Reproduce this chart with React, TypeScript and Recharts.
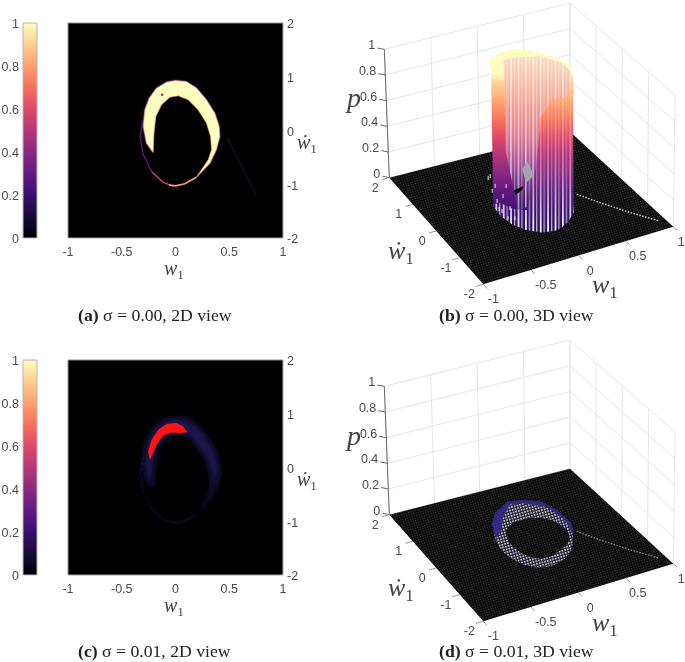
import React from 'react';
import { BarChart, Bar, ScatterChart, Scatter, XAxis, YAxis, CartesianGrid, Polygon, Curve } from 'recharts';

// tick labels
const wTicks = [-1, -0.5, 0, 0.5, 1];
const wDotTicks = [-2, -1, 0, 1, 2];
const pTicks = [0, 0.2, 0.4, 0.6, 0.8, 1];
const barTicks = [0, 0.2, 0.4, 0.6, 0.8, 1];
const barData = [{ name: 'p', top: 1 }];

// magma colormap
const magmaOffsets = [0, 0.1, 0.2, 0.3, 0.4, 0.5, 0.6, 0.7, 0.8, 0.9, 1];
const magmaColors = ['#000004', '#140e36', '#3b0f70', '#641a80', '#8c2981', '#b73779', '#de4968', '#f7705c', '#fe9f6d', '#fecf92', '#fcfdbf'];

// contours read from the 2D views, [w, wdot]
const crescentOuter = [
  [-0.208, -0.41], [-0.27, -0.236], [-0.3, 0.074], [-0.285, 0.385], [-0.245, 0.6], [-0.177, 0.788], [-0.084, 0.9], [0, 0.93],
  [0.1, 0.91], [0.195, 0.79], [0.288, 0.57], [0.366, 0.32], [0.406, 0.074], [0.412, -0.11], [0.38, -0.36], [0.32, -0.61], [0.195, -0.87],
];
const crescentInner = [
  [0.304, -0.546], [0.335, -0.36], [0.326, -0.11], [0.288, 0.136], [0.21, 0.385], [0.118, 0.57], [0.025, 0.645], [-0.053, 0.62],
  [-0.13, 0.477], [-0.183, 0.26], [-0.2, -0.05],
];
const lowerBandLeft = [[-0.3, 0.2], [-0.33, -0.11], [-0.3, -0.453], [-0.223, -0.763]];
const lowerBandMid = [[-0.223, -0.763], [-0.115, -0.967], [-0.04, -1.02]];
const lowerBandBottom = [[-0.06, -1.015], [0, -1.03], [0.087, -0.99], [0.195, -0.87]];
const tailLine = [[0.48, -0.13], [0.6, -0.6], [0.75, -1.2]];
const redDot = [[-0.124, 0.664]];
const redPatch = [
  [-0.24, 0.143], [-0.254, 0.298], [-0.223, 0.515], [-0.161, 0.7], [-0.084, 0.807], [0.009, 0.826], [0.071, 0.764], [0.112, 0.658],
  [0.04, 0.64], [-0.037, 0.65], [-0.115, 0.59], [-0.177, 0.42], [-0.214, 0.236],
];

// 3D view (b), [w, wdot]
const wallBack = [
  [-0.285, 0.385], [-0.245, 0.6], [-0.177, 0.788], [-0.084, 0.9], [0, 0.93], [0.1, 0.91], [0.195, 0.79], [0.288, 0.57], [0.366, 0.32], [0.406, 0.074], [0.412, -0.11], [0.38, -0.36],
];
const wallFront = [
  [0.38, -0.36], [0.32, -0.61], [0.195, -0.856], [0.087, -0.99], [0, -1.03], [-0.115, -0.967], [-0.223, -0.763], [-0.3, -0.453], [-0.33, -0.11], [-0.316, 0.26], [-0.285, 0.385],
];
// [w, wdot, p]
const hollowRim = [
  [-0.22, 0.11, 1], [-0.097, 0.657, 1], [0.072, 0.602, 1], [0.25, 0.458, 1], [0.37, 0.096, 1], [0.372, -0.303, 1],
  [0.32, -0.61, 0.9], [-0.2, -0.85, 0.2], [-0.25, -0.5, 0.1], [-0.175, 0.26, 0.4],
];
const frontProfile = [
  [0.38, -0.36, 1], [0.32, -0.61, 1], [0.195, -0.856, 0.95], [0.087, -0.99, 0.97], [-0.02, -1.02, 0.98], [-0.12, -0.96, 0.86],
  [-0.14, -0.94, 0.66], [-0.16, -0.9, 0.47], [-0.19, -0.84, 0.3], [-0.223, -0.763, 0.15], [-0.3, -0.453, 0.12], [-0.33, -0.11, 0.1], [-0.316, 0.26, 0.02],
];
const gapBlack = [[0.066, 0.528, 0], [0.11, 0.64, 0], [0, 0.6, 0], [-0.04, 0.43, 0]];
const gapGrey = [[0.25, 1.2, 0], [0.36, 1.4, 0], [0.3, 0.9, 0], [0.16, 0.72, 0]];
const baseSpecks = [
  [-0.156, 1.075], [-0.229, 0.635], [-0.27, 0.28], [-0.31, -0.075], [-0.317, -0.346], [-0.162, 0.765], [-0.178, 0.383],
  [-0.217, -0.05], [-0.258, -0.407], [-0.122, 1.12], [-0.069, 0.668], [-0.319, 0.013],
];
const tailDots = [[0.48, -0.13], [0.6, -0.6], [0.75, -1.15], [0.92, -1.72]];

// 3D view (d), [w, wdot, p]
const ringTop = [
  [-0.37, 0.08, 0.18], [-0.226, 0.457, 0.18], [-0.044, 0.665, 0.18], [0.083, 0.6, 0.18], [0.23, 0.41, 0.18], [0.298, -0.015, 0.18], [0.3, -0.544, 0.18], [0.39, -0.3, 0.05],
];
const ringBase = [
  [0.326, -0.583, 0], [0.131, -0.909, 0], [-0.066, -0.97, 0], [-0.222, -0.744, 0], [-0.309, -0.26, 0], [-0.298, 0.255, 0],
];
const ringBandInner = [
  [0.277, -0.769, 0.15], [0.302, -0.269, 0.17], [0.243, 0.186, 0.185], [0.067, 0.472, 0.19], [-0.055, 0.558, 0.19], [-0.18, 0.358, 0.16], [-0.305, -0.04, 0.15], [-0.403, -0.204, 0.15],
];
const ringHole = [
  [-0.14, 0.6, 0], [0.08, 0.8, 0], [0.34, 0.7, 0], [0.43, 0.28, 0], [0.41, -0.28, 0], [0.17, -0.58, 0], [-0.07, -0.72, 0], [-0.2, -0.14, 0],
];

// view of the box, in page pixels of panel (b)
const floorView = { a: [483.3, 284.3], b: [673.3, 226.7], c: [389.3, 177.7], d: [570, 131.7] };
const topView = { a: [481.5, 145], b: [675, 95], c: [384.3, 49.3], d: [570, 3] };
const wLabelShift = [10, 15, 12, 12, 8];

const bilerp = (q: any, u: number, v: number) => [0, 1].map(i =>
  (1 - v) * ((1 - u) * q.a[i] + u * q.b[i]) + v * ((1 - u) * q.c[i] + u * q.d[i]));

const project = (w: number, wd: number, p = 0) => {
  const u = (w + 1) / 2;
  const v = (wd + 2) / 4;
  const f = bilerp(floorView, u, v);
  const t = bilerp(topView, u, v);
  return { x: f[0] + (t[0] - f[0]) * p, y: f[1] + (t[1] - f[1]) * p };
};

const flat = (pts: number[][]) => pts.map(([x, y]) => ({ x, y }));
const at = (pts: number[][], p: number) => pts.map(([w, wd]) => project(w, wd, p));
const lifted = (pts: number[][]) => pts.map(([w, wd, p]) => project(w, wd, p));

const noDot = () => <g />;

// closed shape through the chart scales
const region = (key: string, pts: any[], fill: string, extra: any = {}) => (
  <Scatter
    key={key}
    data={pts}
    isAnimationActive={false}
    shape={noDot}
    line={(lp: any) => <Polygon key={key} points={lp.points} fill={fill} stroke="none" {...extra} />}
  />
);

const blob = (key: string, pts: any[], fill: string, extra: any = {}) => (
  <Scatter
    key={key}
    data={pts}
    isAnimationActive={false}
    shape={noDot}
    line={(lp: any) => <Curve key={key} type="basisClosed" points={lp.points} fill={fill} stroke="none" {...extra} />}
  />
);

const stroke = (key: string, pts: any[], color: string, width = 1, dash?: string, extra: any = {}) => (
  <Scatter
    key={key}
    data={pts}
    isAnimationActive={false}
    shape={noDot}
    line={{ stroke: color, strokeWidth: width, strokeDasharray: dash, fill: 'none', ...extra }}
    lineJointType="linear"
  />
);

const TICK_FONT = { fontFamily: '"Liberation Sans", Arial, sans-serif', fontSize: 12.5, fill: '#4a4a4a' };

const textMarks = (key: string, pts: any[], dx: number, dy: number, anchor: string) => (
  <Scatter
    key={key}
    data={pts}
    isAnimationActive={false}
    shape={(s: any) => (
      <text x={s.cx + (s.payload.shift ?? dx)} y={s.cy + dy} textAnchor={anchor} {...TICK_FONT}>{s.payload.label}</text>
    )}
  />
);

const Math1 = ({ left, top, size, dot }: { left: number; top: number; size: number; dot?: boolean }) => (
  <div style={{ position: 'absolute', left, top, fontFamily: '"Liberation Serif", serif', fontSize: size, lineHeight: 1, color: '#444', whiteSpace: 'nowrap' }}>
    <i>{dot ? 'ẇ' : 'w'}</i><span style={{ fontSize: size * 0.66, position: 'relative', top: size * 0.2 }}>1</span>
  </div>
);

const Caption = ({ left, top, tag, text }: { left: number; top: number; tag: string; text: string }) => (
  <div style={{ position: 'absolute', left, top, fontFamily: '"Liberation Serif", serif', fontSize: 17.7, lineHeight: 1, color: '#222', whiteSpace: 'nowrap' }}>
    <b>{tag}</b> {text}
  </div>
);

const Colorbar = ({ top }: { top: number }) => (
  <div style={{ position: 'absolute', left: 0, top }}>
    <BarChart width={38} height={260} data={barData} margin={{ top: 23, right: 1, bottom: 22, left: 0 }} barCategoryGap={0}>
      <defs>
        <linearGradient id="magmaBar" x1="0" y1="1" x2="0" y2="0">
          {magmaOffsets.map((o, i) => <stop key={o} offset={o} stopColor={magmaColors[i]} />)}
        </linearGradient>
      </defs>
      <XAxis dataKey="name" hide />
      <YAxis width={23} domain={[0, 1]} ticks={barTicks} interval={0} axisLine={false} tickLine={false} tickSize={0} tick={{ ...TICK_FONT, textAnchor: 'end', dy: 1 }} tickMargin={4} />
      <Bar dataKey="top" fill="url(#magmaBar)" stroke="#b5b5b5" isAnimationActive={false} />
    </BarChart>
  </div>
);

const Flat = ({ top, children }: { top: number; children: React.ReactNode }) => (
  <div style={{ position: 'absolute', left: 40, top }}>
    <ScatterChart width={300} height={290} margin={{ top: 23, right: 27, bottom: 22, left: 28 }}>
      <defs>
        <filter id="soft" x="-20%" y="-20%" width="140%" height="140%"><feGaussianBlur stdDeviation="3" /></filter>
        <filter id="softer" x="-20%" y="-20%" width="140%" height="140%"><feGaussianBlur stdDeviation="1" /></filter>
      </defs>
      <CartesianGrid horizontal={false} vertical={false} fill="#000" />
      <XAxis type="number" dataKey="x" domain={[-1, 1]} ticks={wTicks} interval={0} height={30} stroke="#a8a8a8" tickLine={false} tickSize={0} tick={TICK_FONT} tickMargin={9} />
      <YAxis type="number" dataKey="y" domain={[-2, 2]} ticks={wDotTicks} interval={0} width={30} orientation="right" stroke="#a8a8a8" tickLine={false} tickSize={0} tick={{ ...TICK_FONT, dy: 1 }} tickMargin={4} />
      {stroke('frame', flat([[-1, -2], [-1, 2], [1, 2]]), '#8f8f8f')}
      {children}
    </ScatterChart>
  </div>
);

const Box3D = ({ top, children }: { top: number; children: React.ReactNode }) => {
  const backWall = wTicks.map(w => [project(w, 2, 0), project(w, 2, 1)]);
  const sideWall = wDotTicks.map(wd => [project(1, wd, 0), project(1, wd, 1)]);
  return (
    <div style={{ position: 'absolute', left: 340, top }}>
      <ScatterChart width={345} height={325} margin={{ top: 0, right: 0, bottom: 0, left: 0 }}>
        <defs>
          <linearGradient id="wallFill" gradientUnits="userSpaceOnUse" x1="0" y1="50" x2="0" y2="248">
            <stop offset={0} stopColor="#fcfdbf" />
            <stop offset={0.12} stopColor="#fcfdbf" />
            <stop offset={0.17} stopColor="#fecf92" />
            <stop offset={0.27} stopColor="#fe9f6d" />
            <stop offset={0.36} stopColor="#f7705c" />
            <stop offset={0.44} stopColor="#de4968" />
            <stop offset={0.52} stopColor="#b73779" />
            <stop offset={0.62} stopColor="#8c2981" />
            <stop offset={0.7} stopColor="#641a80" />
            <stop offset={0.82} stopColor="#3b0f70" />
            <stop offset={1} stopColor="#140e36" />
          </linearGradient>
          <linearGradient id="hollowFill" gradientUnits="userSpaceOnUse" x1="0" y1="52" x2="0" y2="205">
            <stop offset={0} stopColor="#fbe3c6" />
            <stop offset={0.3} stopColor="#f5a896" />
            <stop offset={0.55} stopColor="#e07a90" />
            <stop offset={0.75} stopColor="#a04a9a" />
            <stop offset={1} stopColor="#3b1668" />
          </linearGradient>
          <linearGradient id="frontFade" x1="0" y1="0" x2="0" y2="1">
            <stop offset={0.2} stopColor="#fff" stopOpacity={0.15} />
            <stop offset={0.5} stopColor="#fff" stopOpacity={0.35} />
            <stop offset={0.62} stopColor="#fff" stopOpacity={0.7} />
            <stop offset={0.7} stopColor="#fff" stopOpacity={0.95} />
          </linearGradient>
          <pattern id="frontStripes" patternUnits="userSpaceOnUse" width={7.4} height={325}>
            <rect x={0} y={0} width={1.8} height={325} fill="url(#frontFade)" />
            <rect x={3.7} y={0} width={1.3} height={325} fill="url(#frontFade)" fillOpacity={0.75} />
          </pattern>
          <pattern id="hollowStripes" patternUnits="userSpaceOnUse" width={7.4} height={325}>
            <rect x={0} y={0} width={1.6} height={325} fill="#fff" fillOpacity={0.62} />
            <rect x={3.7} y={0} width={1.2} height={325} fill="#fff" fillOpacity={0.38} />
          </pattern>
          <pattern id="floorMesh" patternUnits="userSpaceOnUse" width={2.4} height={2.4} patternTransform="rotate(-16)">
            <rect width={2.4} height={2.4} fill="#0a0a0a" />
            <rect width={1.1} height={1.1} fill="#383838" />
          </pattern>
          <pattern id="ringMesh" patternUnits="userSpaceOnUse" width={2.8} height={2.8} patternTransform="rotate(-16)">
            <rect width={2.8} height={2.8} fill="#1a1626" />
            <rect width={1.6} height={1.6} fill="#e4e4ee" />
          </pattern>
        </defs>
        <XAxis type="number" dataKey="x" domain={[340, 685]} hide />
        <YAxis type="number" dataKey="y" domain={[0, 325]} reversed hide />
        {backWall.map((s, i) => stroke(`bw${i}`, s, '#e6e6e6'))}
        {sideWall.map((s, i) => stroke(`sw${i}`, s, '#e6e6e6'))}
        {pTicks.map(p => stroke(`ph${p}`, [project(-1, 2, p), project(1, 2, p), project(1, -2, p)], '#e6e6e6'))}
        {stroke('pAxis', [project(-1, 2, 0), project(-1, 2, 1)], '#666')}
        {pTicks.map(p => stroke(`pt${p}`, [project(-1, 2, p), project(-1.05, 2.1, p)], '#666'))}
        {wDotTicks.map(wd => stroke(`wdt${wd}`, [project(-1, wd, 0), project(-1.08, wd, 0)], '#999'))}
        {wTicks.map(w => stroke(`wt${w}`, [project(w, -2, 0), project(w, -2.16, 0)], '#999'))}
        {region('floor', [project(-1, -2), project(1, -2), project(1, 2), project(-1, 2)], 'url(#floorMesh)')}
        {textMarks('pLabels', pTicks.map(p => ({ ...project(-1, 2, p), label: p })), -9, 0, 'end')}
        {textMarks('wdLabels', wDotTicks.map(wd => ({ ...project(-1, wd, 0), label: wd })), -14, 14, 'middle')}
        {textMarks('wLabels', wTicks.map((w, i) => ({ ...project(w, -2, 0), label: w, shift: wLabelShift[i] })), 12, 19, 'middle')}
        {children}
      </ScatterChart>
    </div>
  );
};

export default function App() {
  const crescent = [...crescentOuter, ...crescentInner];
  const frontBase = at([...wallFront].slice(0, 13).reverse(), 0);
  return (
    <div style={{ position: 'absolute', left: 0, top: 0, width: 685, height: 662, overflow: 'hidden', background: '#fff', filter: 'blur(0.45px)' }}>
      <Colorbar top={0} />
      <Colorbar top={337} />

      <Flat top={0}>
        {stroke('aEdge', flat(crescentOuter), '#2a0f5e', 2.4)}
        {stroke('aTail', flat(tailLine), '#100c2c', 1.5)}
        {stroke('aLowL', flat(lowerBandLeft), '#641a80', 1.3)}
        {stroke('aLowM', flat(lowerBandMid), '#de4968', 1.3)}
        {stroke('aLowB', flat(lowerBandBottom), '#fe9f6d', 1.7)}
        {region('aMain', flat(crescent), '#fcfdbf', { stroke: '#fe9f6d', strokeWidth: 0.6 })}
        <Scatter data={flat(redDot)} fill="#ff1010" isAnimationActive={false} shape={(s: any) => <circle cx={s.cx} cy={s.cy} r={1.3} fill="#ff1010" />} />
      </Flat>

      <Flat top={337}>
        {region('cGlow', flat(crescent), '#1e1550', { filter: 'url(#soft)' })}
        {stroke('cLow', flat([...lowerBandLeft, ...lowerBandMid.slice(1), ...lowerBandBottom.slice(1)]), '#120d30', 1.6, undefined, { filter: 'url(#softer)' })}
        {region('cRed', flat(redPatch), '#ff1414')}
      </Flat>

      <Box3D top={0}>
        {stroke('bTail', tailDots.map(([w, wd]) => project(w, wd, 0.012)), '#c4c4c4', 1.5, '1.5 1.5')}
        {region('bWall', [...at(wallBack, 1), ...at(wallFront, 0)], 'url(#wallFill)')}
        {region('bHollow', lifted(hollowRim), 'url(#hollowFill)')}
        {region('bHollowLines', lifted(hollowRim), 'url(#hollowStripes)')}
        {region('bGrey', lifted(gapGrey), '#a7a2b2')}
        {region('bGap', lifted(gapBlack), '#060606')}
        {region('bFront', [...lifted(frontProfile), ...frontBase], 'url(#wallFill)')}
        {region('bFrontLines', [...lifted(frontProfile), ...frontBase], 'url(#frontStripes)')}
        <Scatter
          data={at(baseSpecks, 0.03)}
          isAnimationActive={false}
          shape={(s: any) => <rect x={s.cx - 0.6} y={s.cy - 2} width={1.2} height={4} fill="#eee" fillOpacity={0.8} />}
        />
      </Box3D>

      <Box3D top={337}>
        {stroke('dTail', tailDots.map(([w, wd]) => project(w, wd, 0.01)), '#8a8a8a', 1.2, '1.5 1.5')}
        {blob('dRing', [...lifted(ringTop), ...lifted(ringBase)], 'url(#ringMesh)')}
        {region('dBand', [...lifted(ringTop), ...lifted(ringBandInner)], '#30287f', { fillOpacity: 0.9, strokeLinejoin: 'round' })}
        {stroke('dRim', lifted(ringTop), '#30287f', 2.5, undefined, { strokeLinejoin: 'round' })}
        {blob('dHole', lifted(ringHole), 'url(#floorMesh)')}
      </Box3D>

      <Math1 left={164} top={258} size={20} />
      <Math1 left={297} top={132} size={20} dot />
      <Math1 left={164} top={595} size={20} />
      <Math1 left={297} top={469} size={20} dot />

      <div style={{ position: 'absolute', left: 347, top: 84, fontFamily: '"Liberation Serif", serif', fontSize: 28, fontStyle: 'italic', color: '#444', lineHeight: 1 }}>p</div>
      <div style={{ position: 'absolute', left: 347, top: 422, fontFamily: '"Liberation Serif", serif', fontSize: 28, fontStyle: 'italic', color: '#444', lineHeight: 1 }}>p</div>
      <Math1 left={388} top={238} size={26} dot />
      <Math1 left={592} top={272} size={26} />
      <Math1 left={388} top={575} size={26} dot />
      <Math1 left={592} top={610} size={26} />

      <Caption left={78} top={307} tag="(a)" text="σ = 0.00, 2D view" />
      <Caption left={439} top={307} tag="(b)" text="σ = 0.00, 3D view" />
      <Caption left={78} top={643} tag="(c)" text="σ = 0.01, 2D view" />
      <Caption left={439} top={643} tag="(d)" text="σ = 0.01, 3D view" />
    </div>
  );
}
